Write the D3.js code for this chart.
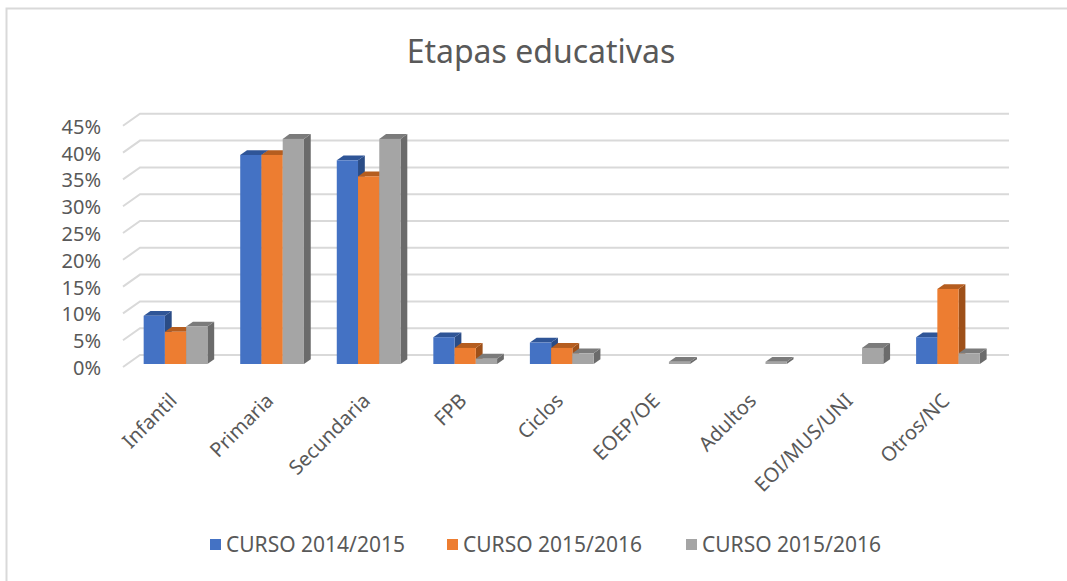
<!DOCTYPE html>
<html>
<head>
<meta charset="utf-8">
<script src="https://cdn.jsdelivr.net/npm/d3@7"></script>
<style>
  body { margin: 0; background: #fff; overflow: hidden; }
  svg { display: block; font-family: "Noto Sans", "Open Sans", sans-serif; }
</style>
</head>
<body>
<svg id="chart"></svg>
<script>
const categories = ["Infantil", "Primaria", "Secundaria", "FPB", "Ciclos", "EOEP/OE", "Adultos", "EOI/MUS/UNI", "Otros/NC"];
const seriesNames = ["CURSO 2014/2015", "CURSO 2015/2016", "CURSO 2015/2016"];
const curso1415 = [9, 39, 38, 5, 4, 0, 0, 0, 5];
const curso1516 = [6, 39, 35, 3, 3, 0, 0, 0, 14];
const curso1516b = [7, 42, 42, 1, 2, 0.4, 0.4, 3, 2];
const yTicks = [0, 5, 10, 15, 20, 25, 30, 35, 40, 45];

const series = [curso1415, curso1516, curso1516b];
const front = ["#4472c4", "#ed7d31", "#a5a5a5"];
const topC = ["#2f5597", "#b55d1f", "#7b7b7b"];
const sideC = ["#2a4c86", "#9e5019", "#6b6b6b"];

const W = 1067, H = 581;
const svg = d3.select("#chart").attr("width", W).attr("height", H);

// chart border (only top and left edges are visible in the picture)
svg.append("rect")
  .attr("x", 6.5).attr("y", 8.5).attr("width", W + 40).attr("height", H + 40)
  .attr("fill", "none").attr("stroke", "#d9d9d9").attr("stroke-width", 2);

svg.append("text")
  .attr("x", 541).attr("y", 63)
  .attr("text-anchor", "middle")
  .attr("font-size", 32).attr("fill", "#595959")
  .text("Etapas educativas");

// front plane scales, depth vector
const x = d3.scaleBand().domain(categories).range([123, 992]).paddingInner(0.34).paddingOuter(0.17);
const y = d3.scaleLinear().domain([0, 45]).range([367, 125.8]);
const depth = { dx: 17, dy: -12 };
const zFront = 0.25, zBack = 0.65;

// gridlines: diagonal on the left side wall + line along back wall
const grid = svg.append("g").attr("stroke", "#d9d9d9").attr("stroke-width", 2).attr("fill", "none");
yTicks.forEach(t => {
  const yf = y(t);
  grid.append("path")
    .attr("d", `M${123},${yf} L${123 + depth.dx},${yf + depth.dy} L${1009},${yf + depth.dy}`);
});

// y-axis labels
svg.append("g").selectAll("text").data(yTicks).join("text")
  .attr("x", 101).attr("y", d => y(d) + 1)
  .attr("dy", "0.35em")
  .attr("text-anchor", "end")
  .attr("font-size", 20).attr("fill", "#595959")
  .text(d => d + "%");

// bars
const sub = d3.scaleBand().domain(d3.range(series.length)).range([0, x.bandwidth()]);
const bars = svg.append("g");
categories.forEach((c, i) => {
  series.forEach((s, k) => {
    const v = s[i];
    if (v === 0) return;
    const ox = depth.dx * zFront, oy = depth.dy * zFront;
    const bx = depth.dx * (zBack - zFront), by = depth.dy * (zBack - zFront);
    const x0 = x(c) + sub(k) + ox, x1 = x0 + sub.bandwidth();
    const y0 = y(0) + oy, y1 = y(v) + oy;
    const g = bars.append("g");
    g.append("path").attr("fill", sideC[k])
      .attr("d", `M${x1},${y0} L${x1 + bx},${y0 + by} L${x1 + bx},${y1 + by} L${x1},${y1} Z`);
    g.append("path").attr("fill", topC[k])
      .attr("d", `M${x0},${y1} L${x0 + bx},${y1 + by} L${x1 + bx},${y1 + by} L${x1},${y1} Z`);
    g.append("rect").attr("fill", front[k])
      .attr("x", x0).attr("y", y1).attr("width", x1 - x0).attr("height", y0 - y1);
  });
});

// category labels
svg.append("g").selectAll("text").data(categories).join("text")
  .attr("transform", d => `translate(${x(d) + x.bandwidth() / 2 + 2},${397}) rotate(-45)`)
  .attr("text-anchor", "end")
  .attr("dy", "0.35em")
  .attr("font-size", 20).attr("fill", "#595959")
  .text(d => d);

// legend
const legendX = [210, 447, 686];
const legend = svg.append("g");
seriesNames.forEach((n, k) => {
  legend.append("rect").attr("x", legendX[k]).attr("y", 539).attr("width", 11).attr("height", 11).attr("fill", front[k]);
  legend.append("text").attr("x", legendX[k] + 16).attr("y", 545).attr("dy", "0.35em")
    .attr("font-size", 21).attr("fill", "#595959").text(n);
});
</script>
</body>
</html>
